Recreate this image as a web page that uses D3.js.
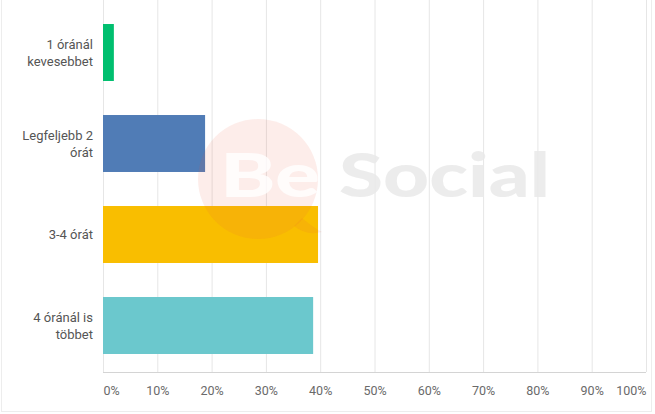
<!DOCTYPE html>
<html><head><meta charset="utf-8">
<script src="https://cdn.jsdelivr.net/npm/d3@7"></script>
<style>html,body{margin:0;padding:0;background:#fff;}svg{display:block;}</style>
</head><body>
<script>
const categories = [["1 óránál","kevesebbet"],["Legfeljebb 2","órát"],["3-4 órát"],["4 óránál is","többet"]];
const values = [2.0, 18.8, 39.6, 38.7];
const colors = ["#00bf6f","#507cb6","#f9be00","#6bc8cd"];
const ticks = [0,10,20,30,40,50,60,70,80,90,100];
const tickLabels = ticks.map(t => t + "%");

const W = 655, H = 414;
const svg = d3.select("body").append("svg").attr("width", W).attr("height", H);
const font = "Roboto, 'Noto Sans', sans-serif";

svg.append("rect").attr("x",1.5).attr("y",-2).attr("width",650).attr("height",413.5)
  .attr("fill","none").attr("stroke","#ededed");

const x = d3.scaleLinear().domain([0,100]).range([103,646]);
const y = d3.scaleBand().domain(d3.range(categories.length)).range([7,371])
  .paddingInner(0.374).paddingOuter(0.187);

// gridlines
svg.append("g").selectAll("line").data(ticks).join("line")
  .attr("x1", d => x(d)+0.5).attr("x2", d => x(d)+0.5)
  .attr("y1", 0).attr("y2", 372)
  .attr("stroke", "#e6e6e6").attr("stroke-width",1);

// bars
svg.append("g").selectAll("rect").data(values).join("rect")
  .attr("x", x(0)).attr("y", (d,i) => y(i))
  .attr("width", d => x(d) - x(0)).attr("height", y.bandwidth())
  .attr("fill", (d,i) => colors[i]);

// x axis
const xAxis = d3.axisBottom(x).tickValues(ticks).tickFormat((d,i) => tickLabels[i]).tickSize(0).tickPadding(14);
const gx = svg.append("g").attr("transform","translate(0,372)").call(xAxis);
gx.select(".domain").attr("stroke","#d4d4d4").attr("d", `M${x(0)},0.5H${x(100)}`);
gx.selectAll("text").attr("font-family", font).attr("font-size", 12.5).attr("fill","#6a6a6a")
  .attr("text-anchor", (d) => d === 0 ? "start" : d === 100 ? "end" : "middle");

// category labels
const lab = svg.append("g").selectAll("text").data(categories).join("text")
  .attr("text-anchor","end").attr("font-family",font).attr("font-size",13).attr("fill","#555555");
lab.each(function(lines,i){
  const t = d3.select(this);
  const cy = y(i) + y.bandwidth()/2;
  const lh = 17;
  const y0 = cy - (lines.length-1)*lh/2 + 4.5;
  lines.forEach((l,j) => t.append("tspan").attr("x",93).attr("y", y0 + j*lh).text(l));
});

// watermark
const wm = svg.append("g").attr("pointer-events","none");
wm.append("path")
  .attr("d", d3.arc()({innerRadius:0, outerRadius:60, startAngle:0, endAngle:2*Math.PI}))
  .attr("transform","translate(258,179)")
  .attr("fill","rgb(240,90,60)").attr("fill-opacity",0.11);
wm.append("path").attr("d","M302,218 Q314,228 322,232 Q306,236 294,226 Z")
  .attr("fill","rgb(240,90,60)").attr("fill-opacity",0.11);
wm.append("text").attr("x",220).attr("y",197).attr("font-family","Lato, 'Open Sans', sans-serif")
  .attr("font-weight",900).attr("font-size",61).attr("fill","#ffffff").attr("fill-opacity",0.8)
  .attr("textLength",100).attr("lengthAdjust","spacingAndGlyphs").text("Be");
wm.append("text").attr("x",339).attr("y",197).attr("font-family","Lato, 'Open Sans', sans-serif")
  .attr("font-weight",900).attr("font-size",61).attr("fill","#e9e9e9").attr("fill-opacity",0.85)
  .attr("textLength",211).attr("lengthAdjust","spacingAndGlyphs").text("Social");
</script>
</body></html>
